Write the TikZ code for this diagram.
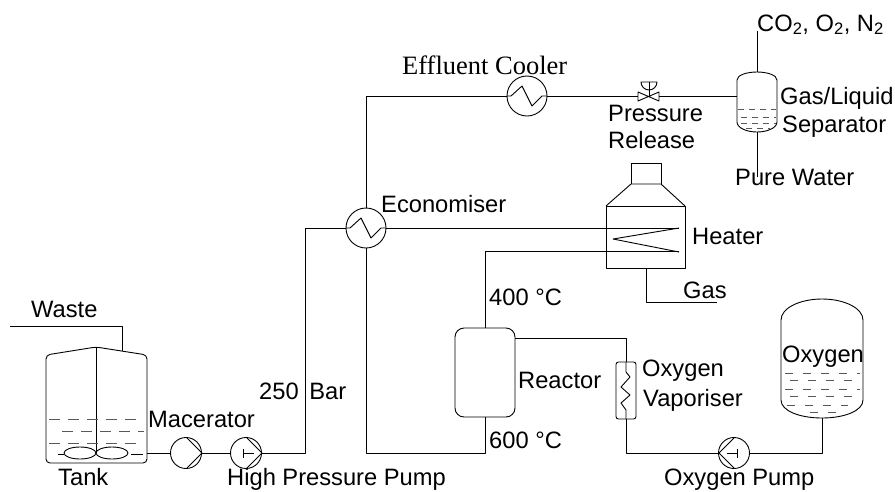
\documentclass[tikz,border=0pt]{standalone}
\usetikzlibrary{shapes.geometric}
\usepackage{fontspec}
\setmainfont{Liberation Sans}
\newfontfamily\serifface{Liberation Serif}
\tikzset{
  x=1pt,y=-1pt,
  pipe/.style={draw=black,line width=0.9pt},
  level/.style={draw=black!65,line width=0.8pt,dash pattern=on 11pt off 8pt},
  unit/.style={circle,draw=black,line width=0.9pt,minimum size=#1,inner sep=0pt,fill=white},
  lbl/.style={inner sep=0pt,anchor=base west,font=\fontsize{23.7}{26}\selectfont},
}
\begin{document}
\begin{tikzpicture}[line join=round]
\useasboundingbox (0,0) rectangle (895,491);
% tank
\draw[pipe,rounded corners=4pt] (96,347) -- (147,355) -- (147,463) -- (46,463) -- (46,355) -- cycle;
\draw[pipe] (96,347) -- (96,453);
\coordinate (wasteend) at (10,326);
\coordinate (wastein) at (122,351);
\draw[pipe] (wasteend) -- (122,326) -- (wastein);
\node[ellipse,draw=black,line width=0.9pt,minimum width=32pt,minimum height=12pt,inner sep=0pt] (impl) at (80,453) {};
\node[ellipse,draw=black,line width=0.9pt,minimum width=32pt,minimum height=12pt,inner sep=0pt] (impr) at (112,453) {};
\draw[level] (49,419) -- (144,419);
\draw[level] (62,431) -- (144,431);
\draw[level] (49,443) -- (144,443);
\draw[pipe] (58,454) -- (64,454) (131,454) -- (143,454);
% units
\node[unit=31pt] (mac) at (186,453) {};
\draw[pipe] (187,438) -- (202,453) -- (187,468);
\node[unit=31pt] (hpp) at (246,453) {};
\draw[pipe] (247,438) -- (262,453) -- (247,468);
\draw[pipe] (243,449) -- (243,458) (243,453) -- (254,453);
\node[unit=40pt] (eco) at (366,228) {};
\draw[pipe] (346,228) -- (350,228) -- (361,218) -- (371,238) -- (381,228) -- (386,228);
\node[unit=40pt] (cool) at (527,96) {};
\draw[pipe] (507,96) -- (511,96) -- (522,86) -- (532,106) -- (542,96) -- (547,96);
% valve
\coordinate (valvel) at (638,96);
\coordinate (valver) at (659,96);
\draw[pipe] (638,92) -- (659,101) -- (659,92) -- (638,101) -- cycle;
\draw[pipe] (649,96) -- (649,82);
\draw[pipe] (641,82) arc[start angle=180,end angle=0,radius=8] -- cycle;
% separator
\draw[pipe] (737,80) .. controls (737,75) and (747,72) .. (757,72) .. controls (767,72) and (777,75) .. (777,80) -- (777,122) .. controls (777,128) and (767,132) .. (757,132) .. controls (747,132) and (737,128) .. (737,122) -- cycle;
\coordinate (sepl) at (737,96);
\coordinate (septop) at (757,72);
\coordinate (sepbot) at (757,132);
\coordinate (co2) at (757,31);
\coordinate (water) at (757,177);
\draw[level,dash pattern=on 6pt off 5pt] (738,109) -- (776,109);
\draw[level,dash pattern=on 6pt off 5pt] (741,117) -- (776,117);
\draw[level,dash pattern=on 6pt off 5pt] (741,123) -- (776,123);
\draw[level,dash pattern=on 6pt off 5pt] (746,128) -- (770,128);
% heater
\draw[pipe] (606,206) rectangle (685,268);
\draw[pipe] (606,206) -- (631,184) -- (661,184) -- (685,206);
\draw[pipe] (631,184) -- (631,163) -- (661,163) -- (661,184);
\draw[pipe] (679,228) -- (613,239) -- (679,252);
% reactor
\node[draw=black,line width=0.9pt,rounded corners=9pt,minimum width=60pt,minimum height=89pt,inner sep=0pt] (reactor) at (485,372.5) {};
% vaporiser
\node[draw=black,line width=0.9pt,rounded corners=2.5pt,minimum width=20pt,minimum height=57pt,inner sep=0pt] (vap) at (626,390.5) {};
\draw[pipe] (626,362) -- (626,372) -- (630,377) -- (621,387) -- (630,395) -- (621,403) -- (626,410) -- (626,419);
% oxygen pump
\node[unit=31pt] (oxp) at (734,453) {};
\draw[pipe] (734,438) -- (719,453) -- (734,468);
\draw[pipe] (737,449) -- (737,458) (737,453) -- (727,453);
% oxygen tank
\draw[pipe] (781,320) .. controls (781,308) and (800,299) .. (822,299) .. controls (844,299) and (863,308) .. (863,320) -- (863,400) .. controls (863,411) and (844,418) .. (822,418) .. controls (800,418) and (781,411) .. (781,400) -- cycle;
\coordinate (oxbot) at (822,418);
\foreach \yy/\xa/\xb in {373/785/860,380/790/858,389/785/860,396/790/858,405/787/848,412/810/838}
  \draw[level,dash pattern=on 8pt off 10pt] (\xa,\yy) -- (\xb,\yy);
% connectors
\draw[pipe] (147,453) -- (mac);
\draw[pipe] (mac) -- (hpp);
\draw[pipe] (hpp.east) -- (305,453) -- (305,228) -- (eco.west);
\draw[pipe] (eco.east) -- (679,228);
\draw[pipe] (eco.north) -- (366,96) -- (cool.west);
\draw[pipe] (cool.east) -- (valvel);
\draw[pipe] (valver) -- (sepl);
\draw[pipe] (septop) -- (co2);
\draw[pipe] (sepbot) -- (water);
\draw[pipe] (eco.south) -- (366,453) -- (485,453) -- (reactor.south);
\draw[pipe] (reactor.north) -- (485,251) -- (679,251);
\draw[pipe] (646,268) -- (646,302) -- (717,302);
\draw[pipe] (515,338) -- (626,338) -- (vap.north);
\draw[pipe] (vap.south) -- (626,453) -- (oxp.west);
\draw[pipe] (oxp.east) -- (822,453) -- (oxbot);
% labels
\node[lbl] (lwaste) at (31,317) {Waste};
\node[lbl] (ltank) at (58,485) {Tank};
\node[lbl] (lmac) at (148,427) {Macerator};
\node[lbl] (lhpp) at (227,485) {High Pressure Pump};
\node[lbl] (lbar) at (259,399) {250\hspace{4pt} Bar};
\node[lbl] (leco) at (381,212) {Economiser};
\node[lbl,font=\serifface\fontsize{26.5}{30}\selectfont] (lcool) at (402,74) {Effluent Cooler};
\node[lbl] (lrel1) at (608,121) {Pressure};
\node[lbl] (lrel2) at (608,148) {Release};
\node[lbl] (lco2) at (757,31) {CO\textsubscript{2}, O\textsubscript{2}, N\textsubscript{2}};
\node[lbl] (lsep1) at (780,104) {Gas/Liquid};
\node[lbl] (lsep2) at (782,132) {Separator};
\node[lbl] (lwater) at (735,185) {Pure Water};
\node[lbl] (lheat) at (692,244) {Heater};
\node[lbl] (lgas) at (683,298) {Gas};
\node[lbl] (l400) at (489,305) {400 °C};
\node[lbl] (lreac) at (518,388) {Reactor};
\node[lbl] (l600) at (489,448) {600 °C};
\node[lbl] (lvap1) at (642,376) {Oxygen};
\node[lbl] (lvap2) at (643,406) {Vaporiser};
\node[lbl] (loxy) at (782,362) {Oxygen};
\node[lbl] (loxp) at (664,485) {Oxygen Pump};
\end{tikzpicture}
\end{document}
